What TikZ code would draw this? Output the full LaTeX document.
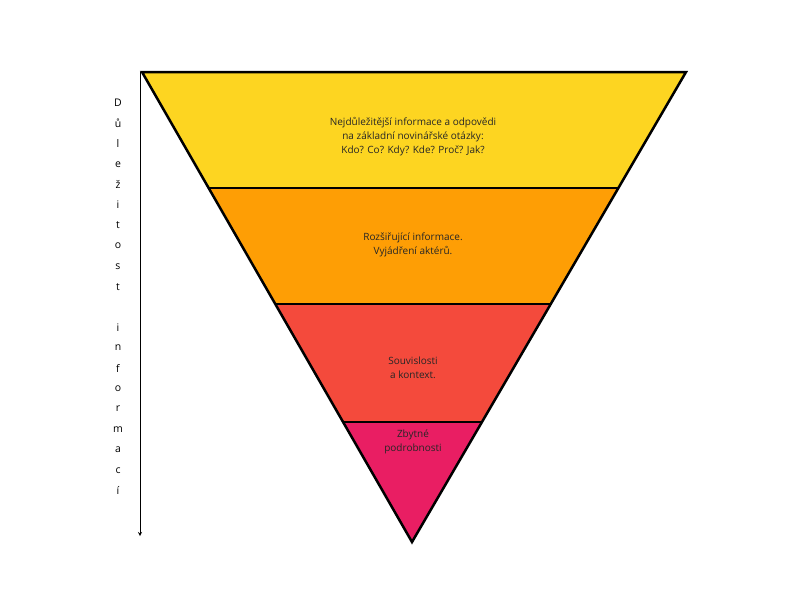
\documentclass[tikz,border=0pt]{standalone}
\usepackage{fontspec}
\setmainfont{Open Sans}
\definecolor{cy}{HTML}{FDD521}
\definecolor{co}{HTML}{FE9E05}
\definecolor{cr}{HTML}{F44A3C}
\definecolor{cp}{HTML}{E91E63}
\begin{document}
\begin{tikzpicture}[x=1pt,y=-1pt,
  band/.style={draw=black,line width=2.5pt,line join=miter},
  lbl/.style={align=center,font=\fontsize{10}{14}\selectfont,text=black!85},
  let/.style={font=\fontsize{10.5}{12}\selectfont}]
\useasboundingbox (0,0) rectangle (800,600);
\coordinate (TL) at (142,72); \coordinate (TR) at (686,72); \coordinate (B) at (412,542);
\coordinate (L1) at (208.6,188); \coordinate (R1) at (618,188);
\coordinate (L2) at (275,304); \coordinate (R2) at (550.7,304);
\coordinate (L3) at (343,422); \coordinate (R3) at (482,422);
\fill[cy] (TL)--(TR)--(R1)--(L1)--cycle;
\fill[co] (L1)--(R1)--(R2)--(L2)--cycle;
\fill[cr] (L2)--(R2)--(R3)--(L3)--cycle;
\fill[cp] (L3)--(R3)--(B)--cycle;
\draw[band] (TL)--(TR)--(B)--cycle;
\draw[band] (L1)--(R1); \draw[band] (L2)--(R2); \draw[band] (L3)--(R3);
\node[lbl] (t1) at (413,137) {Nejdůležitější informace a odpovědi\\na základní novinářské otázky:\\Kdo? Co? Kdy? Kde? Proč? Jak?};
\node[lbl] (t2) at (413,245) {Rozšiřující informace.\\Vyjádření aktérů.};
\node[lbl] (t3) at (413,368) {Souvislosti\\a kontext.};
\node[lbl] (t4) at (413,442) {Zbytné\\podrobnosti};
\coordinate (a1) at (140,72); \coordinate (a2) at (140,536);
\draw[line width=0.8pt,-stealth] (a1)--(a2);
\foreach \c [count=\i] in {D,ů,l,e,ž,i,t,o,s,t,{},i,n,f,o,r,m,a,c,í}
  \node[let] (v\i) at (118,{103+(\i-1)*20.4}) {\c};
\end{tikzpicture}
\end{document}
